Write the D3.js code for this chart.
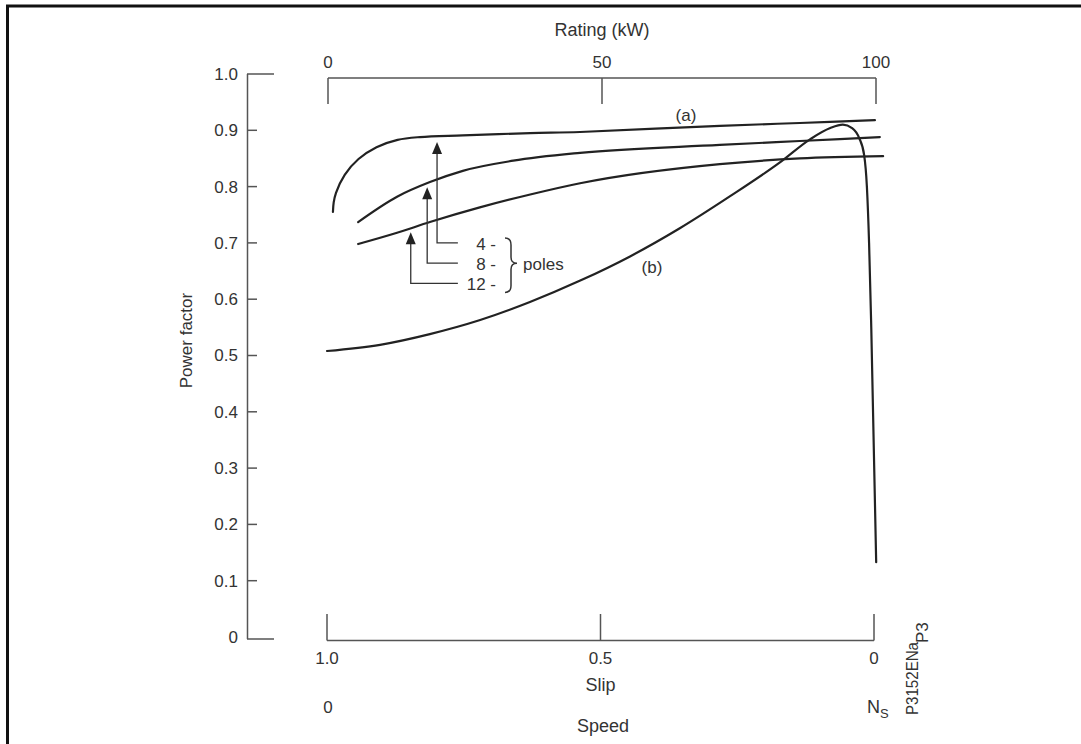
<!DOCTYPE html>
<html><head><meta charset="utf-8">
<script src="https://cdn.jsdelivr.net/npm/d3@7"></script>
<style>body{margin:0;background:#fff}svg{display:block}text{font-family:"Liberation Sans",Arial,sans-serif;fill:#333}</style>
</head><body><svg id="c" width="1081" height="744"></svg>
<script>
// ---- data ----
const pfTicks = [0, 0.1, 0.2, 0.3, 0.4, 0.5, 0.6, 0.7, 0.8, 0.9, 1.0];
const pfTickLabels = ["0","0.1","0.2","0.3","0.4","0.5","0.6","0.7","0.8","0.9","1.0"];
const ratingTicks = [0, 50, 100];
const slipTicks = [1.0, 0.5, 0];
const slipTickLabels = ["1.0","0.5","0"];
const speedLabels = ["0", "N"];
// power factor vs rating (kW)
const pole4Rating = [0.9, 1.04, 1.46, 3.05, 5.57, 8.85, 12.7, 16.8, 24.6, 36.9, 46, 71.5, 86.1, 99.8];
const pole4PF     = [0.755, 0.772, 0.789, 0.821, 0.849, 0.870, 0.883, 0.888, 0.891, 0.895, 0.897, 0.908, 0.913, 0.918];
const pole8Rating = [5.5, 12.6, 18.6, 24.6, 33.8, 46, 71.5, 86.1, 100.7];
const pole8PF     = [0.737, 0.782, 0.808, 0.828, 0.846, 0.860, 0.874, 0.881, 0.888];
const pole12Rating = [5.5, 12.6, 18.6, 27.7, 36.9, 46, 71.5, 86.1, 101.3];
const pole12PF     = [0.698, 0.718, 0.737, 0.763, 0.786, 0.806, 0.840, 0.850, 0.854];
// power factor vs slip
const slipB = [1.0, 0.903, 0.812, 0.720, 0.629, 0.537, 0.446, 0.355, 0.263, 0.172, 0.117, 0.080, 0.057, 0.040, 0.027, 0.018, 0.013, 0.009, 0.005, -0.004];
const pfB   = [0.508, 0.519, 0.538, 0.563, 0.595, 0.633, 0.676, 0.726, 0.783, 0.843, 0.884, 0.904, 0.910, 0.904, 0.886, 0.856, 0.800, 0.700, 0.550, 0.133];
// pole arrows: rating position, tip pf, base pf
const arrowPoles = ["4 -", "8 -", "12 -"];
const arrowRating = [19.9, 18.1, 15.1];
const arrowTipPF = [0.879, 0.799, 0.719];
const arrowBasePF = [0.700, 0.664, 0.628];
const arrowEndRating = 23.7;

// ---- scales ----
const svg = d3.select("#c");
const y = d3.scaleLinear().domain([0, 1]).range([637, 74]);
const xr = d3.scaleLinear().domain([0, 100]).range([328, 876]);
const xs = d3.scaleLinear().domain([1, 0]).range([327, 874]);
const axisCol = "#555";

// frame
svg.append("path").attr("d","M7.5,744 V6 H1081").attr("fill","none").attr("stroke","#111").attr("stroke-width",3);

// left axis
const ga = svg.append("g");
ga.append("line").attr("x1",247.5).attr("x2",247.5).attr("y1",y(1)).attr("y2",y(0)+2).attr("stroke",axisCol).attr("stroke-width",1.5);
pfTicks.forEach((t,i)=>{
  const long = (t===0||t===1);
  const yy = y(t)+(t===0?2:0);
  ga.append("line").attr("x1",247).attr("x2",long?274:257).attr("y1",yy).attr("y2",yy).attr("stroke",axisCol).attr("stroke-width",1.5);
  ga.append("text").attr("x",238).attr("y",y(t)).attr("dy","0.35em").attr("text-anchor","end").attr("font-size",17).text(pfTickLabels[i]);
});
svg.append("text").attr("transform",`translate(192,${y(0.5)-15}) rotate(-90)`).attr("text-anchor","middle").attr("font-size",17).text("Power factor");

// top axis (rating)
const gt = svg.append("g");
gt.append("line").attr("x1",xr(0)).attr("x2",xr(100)).attr("y1",78).attr("y2",78).attr("stroke",axisCol).attr("stroke-width",1.5);
ratingTicks.forEach(t=>{
  gt.append("line").attr("x1",xr(t)).attr("x2",xr(t)).attr("y1",78).attr("y2",104).attr("stroke",axisCol).attr("stroke-width",1.5);
  gt.append("text").attr("x",xr(t)).attr("y",62).attr("dy","0.35em").attr("text-anchor","middle").attr("font-size",17).text(t);
});
svg.append("text").attr("x",xr(50)).attr("y",30).attr("dy","0.35em").attr("text-anchor","middle").attr("font-size",18).text("Rating (kW)");

// bottom axis (slip)
const gb = svg.append("g");
gb.append("line").attr("x1",xs(1)).attr("x2",xs(0)).attr("y1",640.5).attr("y2",640.5).attr("stroke",axisCol).attr("stroke-width",1.5);
slipTicks.forEach((t,i)=>{
  gb.append("line").attr("x1",xs(t)).attr("x2",xs(t)).attr("y1",640.5).attr("y2",614).attr("stroke",axisCol).attr("stroke-width",1.5);
  gb.append("text").attr("x",xs(t)).attr("y",658).attr("dy","0.35em").attr("text-anchor","middle").attr("font-size",17).text(slipTickLabels[i]);
});
svg.append("text").attr("x",xs(0.5)).attr("y",685).attr("dy","0.35em").attr("text-anchor","middle").attr("font-size",18).text("Slip");
svg.append("text").attr("x",xs(1)+1).attr("y",707).attr("dy","0.35em").attr("text-anchor","middle").attr("font-size",17).text(speedLabels[0]);
const ns = svg.append("text").attr("x",xs(0)-7).attr("y",707).attr("dy","0.35em").attr("font-size",18);
ns.append("tspan").text(speedLabels[1]);
ns.append("tspan").attr("dy",5).attr("font-size",13).text("S");
svg.append("text").attr("x",603).attr("y",726).attr("dy","0.35em").attr("text-anchor","middle").attr("font-size",18).text("Speed");

// reference id
svg.append("text").attr("transform","translate(918,715) rotate(-90)").attr("font-size",17).attr("textLength",73).attr("lengthAdjust","spacingAndGlyphs").text("P3152ENa");
svg.append("text").attr("transform","translate(928,643) rotate(-90)").attr("font-size",17).text("P3");

// curves
function drawCurve(xsArr, ysArr, xScale, curve){
  const line = d3.line().curve(curve || d3.curveMonotoneX);
  svg.append("path").attr("d", line(xsArr.map((v,i)=>[xScale(v), y(ysArr[i])])))
    .attr("fill","none").attr("stroke","#222").attr("stroke-width",2.2).attr("stroke-linecap","round");
}
drawCurve(pole4Rating, pole4PF, xr, d3.curveCatmullRom.alpha(0.5));
drawCurve(pole8Rating, pole8PF, xr);
drawCurve(pole12Rating, pole12PF, xr);
drawCurve(slipB, pfB, xs);

svg.append("text").attr("x",686).attr("y",115).attr("dy","0.35em").attr("text-anchor","middle").attr("font-size",17).text("(a)");
svg.append("text").attr("x",652).attr("y",267).attr("dy","0.35em").attr("text-anchor","middle").attr("font-size",17).text("(b)");

// arrows
arrowPoles.forEach((lab,i)=>{
  const ax = xr(arrowRating[i]), tip = y(arrowTipPF[i]), base = y(arrowBasePF[i]), ex = xr(arrowEndRating);
  svg.append("path").attr("d",`M${ex},${base} H${ax} V${tip+9}`).attr("fill","none").attr("stroke","#333").attr("stroke-width",1.3);
  svg.append("path").attr("d",`M${ax},${tip} L${ax-5},${tip+12} L${ax+5},${tip+12} Z`).attr("fill","#222");
  svg.append("text").attr("x",496).attr("y",base+1).attr("dy","0.35em").attr("text-anchor","end").attr("font-size",17).text(lab);
});
const bm = y(0.664), bt = y(0.700) - 5, bb = y(0.628) + 9;
svg.append("path").attr("d",`M505,${bt} Q511,${bt} 511,${bt+7} L511,${bm-6} Q511,${bm} 517,${bm} Q511,${bm} 511,${bm+6} L511,${bb-7} Q511,${bb} 505,${bb}`)
  .attr("fill","none").attr("stroke","#333").attr("stroke-width",1.5);
svg.append("text").attr("x",523).attr("y",bm+1).attr("dy","0.35em").attr("font-size",17).text("poles");
</script></body></html>
